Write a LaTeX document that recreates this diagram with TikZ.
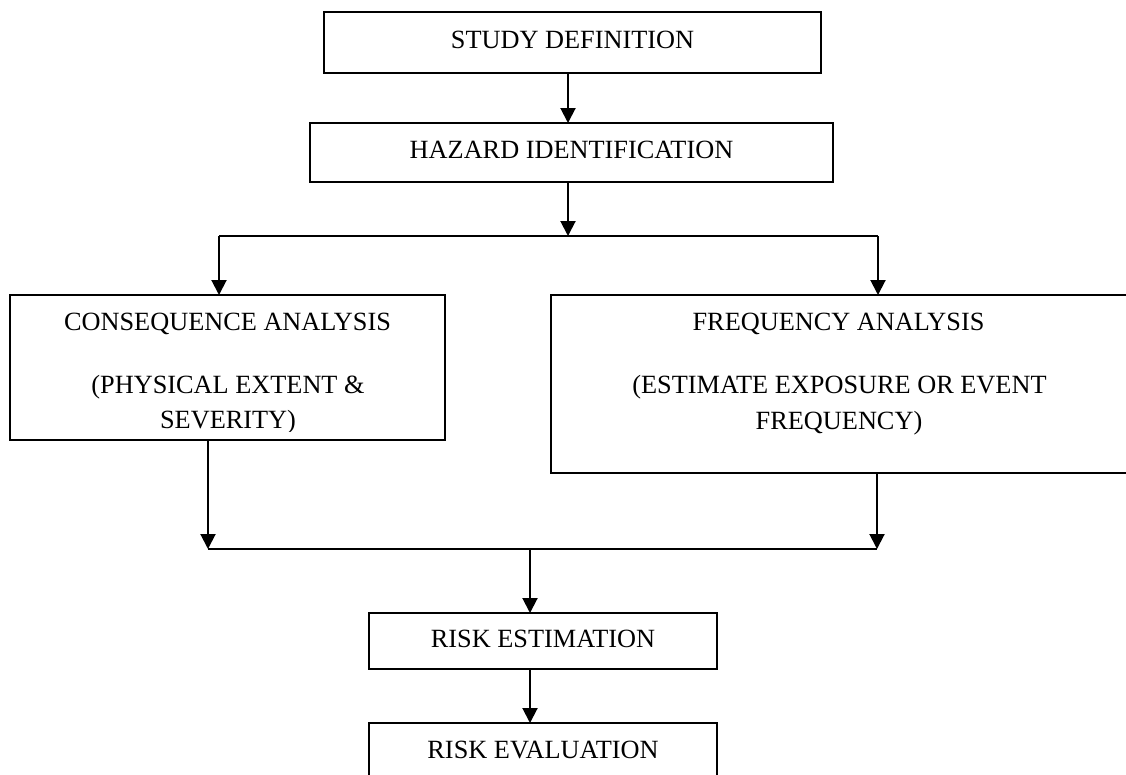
\documentclass[tikz,border=0pt]{standalone}
\usepackage{fontspec}
\setmainfont{Liberation Serif}
\usetikzlibrary{arrows.meta}
\begin{document}
\begin{tikzpicture}[x=1pt,y=-1pt,
  font=\fontsize{26.3}{30}\selectfont,
  boxnode/.style={draw=black,line width=2pt,rectangle,inner sep=0pt,outer sep=0pt,
    text height=17.4pt,text depth=5pt},
  txt/.style={inner sep=0pt,outer sep=0pt,text height=17.4pt,text depth=0pt},
  conn/.style={draw=black,line width=2pt},
  arr/.style={conn,-{Triangle[length=15pt,width=15pt]}}]
\useasboundingbox (0,0) rectangle (1126,774);
\begin{scope}
\clip (0,0) rectangle (1126,774);
% boxes
\node[boxnode,minimum width=497pt,minimum height=61pt] (study) at (572.5,42.5) {STUDY DEFINITION};
\node[boxnode,minimum width=523pt,minimum height=58.5pt] (hazard) at (571.5,152.25) {HAZARD IDENTIFICATION};
\node[boxnode,minimum width=435pt,minimum height=145pt] (cons) at (227.5,367.5) {};
\node[boxnode,minimum width=577pt,minimum height=178pt] (freq) at (839.5,384) {};
\node[boxnode,minimum width=348pt,minimum height=56pt] (riskest) at (543,641) {RISK ESTIMATION};
\node[boxnode,minimum width=348pt,minimum height=77pt] (riskeval) at (543,761.5) {};
\node[txt] (evaltext) at (543,750) {RISK EVALUATION};
% multi-line texts
\begin{scope}
\clip (10,295) rectangle (445,431);
\node[txt] (cons1) at (227.5,322) {CONSEQUENCE ANALYSIS};
\node[txt] (cons2) at (228,385) {(PHYSICAL EXTENT \&};
\node[txt] (cons3) at (228,420) {SEVERITY)};
\end{scope}
\node[txt] (freq1) at (838.5,322) {FREQUENCY ANALYSIS};
\node[txt] (freq2) at (839.5,385) {(ESTIMATE EXPOSURE OR EVENT};
\node[txt] (freq3) at (839,421) {FREQUENCY)};
% junction coordinates
\coordinate (xa) at (568,0);
\coordinate (j1) at (568,236);
\coordinate (j1L) at (219,236);
\coordinate (j1R) at (878,236);
\coordinate (j2L) at (208,549);
\coordinate (j2R) at (877,549);
\coordinate (j2) at (530,549);
% connectors
\draw[arr] (study.south -| xa) -- (hazard.north -| xa);
\draw[arr] (hazard.south -| xa) -- (j1);
\draw[conn] (j1L) -- (j1R);
\draw[arr] (j1L) -- (j1L |- cons.north);
\draw[arr] (j1R) -- (j1R |- freq.north);
\draw[arr] (cons.south -| j2L) -- (j2L);
\draw[arr] (freq.south -| j2R) -- (j2R);
\draw[conn] (j2L) -- (j2R);
\draw[arr] (j2) -- (j2 |- riskest.north);
\draw[arr] (riskest.south -| j2) -- (riskeval.north -| j2);
\end{scope}
\end{tikzpicture}
\end{document}
